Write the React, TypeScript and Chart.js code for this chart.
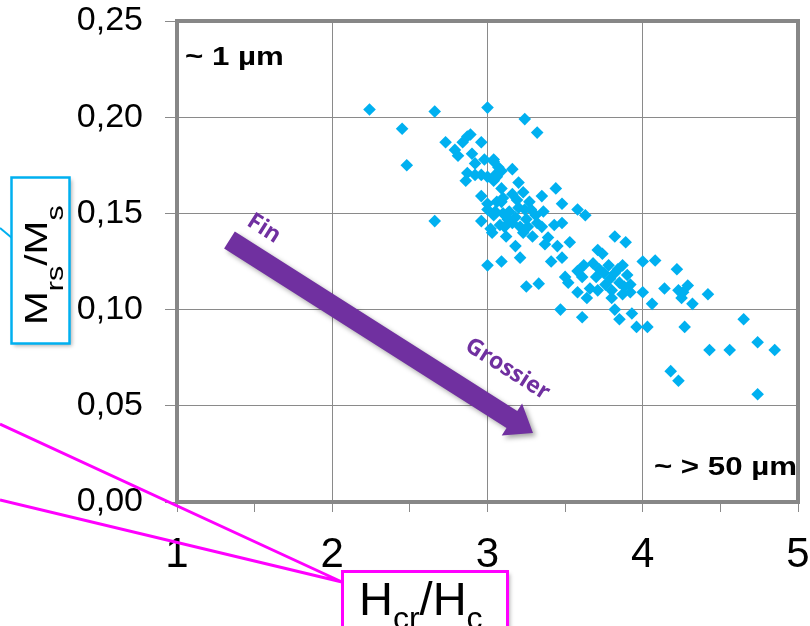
import { useEffect, useRef } from 'react';
import { Chart, registerables } from 'chart.js';

Chart.register(...registerables);

// Hcr/Hc values (x) and Mrs/Ms values (y)
const hcrHc = [
  2.24, 2.66, 3.0, 3.24, 3.32, 2.45, 2.48, 2.66, 2.73, 2.84,
  2.89, 2.87, 2.96, 2.81, 2.9, 3.04, 3.07, 2.87, 2.86, 2.92,
  2.96, 3.0, 3.05, 3.09, 2.96, 3.0, 3.05, 3.09, 3.04, 3.16,
  3.06, 3.2, 3.04, 3.1, 3.16, 3.06, 3.44, 3.35, 3.48, 3.27,
  3.2, 3.0, 3.04, 3.58, 3.63, 3.36, 3.13, 2.96, 3.03, 3.11,
  3.16, 3.25, 3.32, 3.23, 3.29, 3.35, 3.43, 3.48, 3.39, 3.45,
  3.53, 3.18, 3.21, 3.09, 3.0, 3.41, 3.48, 3.62, 3.71, 3.68,
  3.82, 3.89, 3.74, 3.78, 3.87, 4.0, 4.08, 4.22, 3.58, 3.61,
  3.5, 3.52, 3.82, 3.9, 3.85, 3.92, 3.66, 3.58, 3.64, 3.8,
  3.87, 3.92, 4.0, 4.14, 4.06, 3.47, 3.61, 3.82, 3.85, 3.93,
  3.96, 4.03, 4.27, 4.23, 4.29, 4.26, 4.25, 4.32, 4.42, 4.65,
  4.43, 4.56, 4.74, 4.85, 4.18, 4.23, 4.74, 3.02, 3.25, 3.33,
  3.14, 3.24, 3.31, 3.08, 3.21, 3.37, 3.72, 3.76, 3.71, 3.79,
  2.92, 2.98, 2.79, 3.1, 3.18, 3.28, 3.12, 3.26, 3.19, 3.09,
  3.23, 3.75, 3.84, 3.7, 3.8, 3.88,
];
const mrsMs = [
  0.204, 0.203, 0.205, 0.199, 0.192, 0.194, 0.175, 0.146, 0.187, 0.187,
  0.191, 0.19, 0.187, 0.18, 0.181, 0.178, 0.174, 0.171, 0.167, 0.17,
  0.17, 0.169, 0.17, 0.172, 0.159, 0.155, 0.151, 0.156, 0.177, 0.173,
  0.169, 0.166, 0.167, 0.158, 0.16, 0.156, 0.163, 0.159, 0.155, 0.156,
  0.153, 0.152, 0.149, 0.152, 0.149, 0.151, 0.147, 0.146, 0.14, 0.143,
  0.145, 0.147, 0.145, 0.14, 0.138, 0.143, 0.144, 0.145, 0.1375, 0.133,
  0.135, 0.133, 0.127, 0.125, 0.123, 0.125, 0.127, 0.123, 0.131, 0.124,
  0.138, 0.135, 0.129, 0.123, 0.123, 0.125, 0.1255, 0.121, 0.12, 0.117,
  0.117, 0.114, 0.119, 0.118, 0.114, 0.113, 0.111, 0.109, 0.106, 0.106,
  0.108, 0.109, 0.109, 0.111, 0.103, 0.1, 0.096, 0.1, 0.095, 0.098,
  0.091, 0.091, 0.091, 0.11, 0.1125, 0.109, 0.106, 0.103, 0.108, 0.095,
  0.079, 0.079, 0.083, 0.079, 0.068, 0.063, 0.056, 0.142, 0.112, 0.1135,
  0.151, 0.152, 0.149, 0.144, 0.143, 0.134, 0.121, 0.113, 0.11, 0.116,
  0.176, 0.178, 0.183, 0.15, 0.148, 0.152, 0.138, 0.143, 0.157, 0.163,
  0.161, 0.119, 0.121, 0.117, 0.11, 0.112,
];

const xMin = 1;
const xMax = 5;
const yMin = 0;
const yMax = 0.25;
const yStep = 0.05;

// arrow annotation in data coordinates: from "Fin" to "Grossier"
const arrowFrom = [1.338, 0.1362];
const arrowTo = [3.293, 0.0359];

const FONT = '"Liberation Sans", Arial, Helvetica, sans-serif';
const PURPLE = '#7030A0';
const CYAN = '#00B0F0';
const MAGENTA = '#FF00FF';

type Part = { t: string; size: number; dy: number };

function drawParts(ctx: CanvasRenderingContext2D, parts: Part[], x: number, y: number) {
  let cx = x;
  for (const p of parts) {
    ctx.font = `${p.size}px ${FONT}`;
    ctx.fillText(p.t, cx, y + p.dy);
    cx += ctx.measureText(p.t).width;
  }
}

const overlay = {
  id: 'overlay',
  afterDraw(chart: any) {
    const { ctx, chartArea: a, scales } = chart;
    const xs = scales.x;
    const ys = scales.y;
    ctx.save();

    // plot frame
    ctx.strokeStyle = '#878787';
    ctx.lineWidth = 4;
    ctx.strokeRect(a.left, a.top, a.right - a.left, a.bottom - a.top);

    // corner labels
    ctx.fillStyle = '#000';
    ctx.textBaseline = 'alphabetic';
    ctx.font = `bold 25px ${FONT}`;
    ctx.save();
    ctx.translate(a.left + 8, a.top + 44);
    ctx.scale(1.25, 1);
    ctx.textAlign = 'left';
    ctx.fillText('~ 1 µm', 0, 0);
    ctx.restore();
    ctx.save();
    ctx.translate(a.right - 1, a.bottom - 27);
    ctx.scale(1.25, 1);
    ctx.textAlign = 'right';
    ctx.fillText('~ > 50 µm', 0, 0);
    ctx.restore();

    // arrow
    const sx = xs.getPixelForValue(arrowFrom[0]);
    const sy = ys.getPixelForValue(arrowFrom[1]);
    const tx = xs.getPixelForValue(arrowTo[0]);
    const ty = ys.getPixelForValue(arrowTo[1]);
    const ang = Math.atan2(ty - sy, tx - sx);
    const len = Math.hypot(tx - sx, ty - sy);
    ctx.save();
    ctx.translate(sx, sy);
    ctx.rotate(ang);
    ctx.save();
    ctx.shadowColor = 'rgba(0,0,0,0.35)';
    ctx.shadowBlur = 5;
    ctx.shadowOffsetX = 3;
    ctx.shadowOffsetY = 3;
    ctx.fillStyle = PURPLE;
    const hl = 25;
    ctx.beginPath();
    ctx.moveTo(0, -10);
    ctx.lineTo(len - hl, -10);
    ctx.lineTo(len - hl, -19);
    ctx.lineTo(len, 0);
    ctx.lineTo(len - hl, 19);
    ctx.lineTo(len - hl, 10);
    ctx.lineTo(0, 10);
    ctx.closePath();
    ctx.fill();
    ctx.restore();
    ctx.fillStyle = PURPLE;
    ctx.font = 'bold 23px "Open Sans", "DejaVu Sans", sans-serif';
    ctx.textAlign = 'center';
    ctx.textBaseline = 'middle';
    ctx.fillText('Fin', 23, -28);
    ctx.fillText('Grossier', 304, -40);
    ctx.restore();

    // y-axis title box (Mrs/Ms)
    ctx.strokeStyle = CYAN;
    ctx.lineWidth = 2;
    ctx.beginPath();
    ctx.moveTo(0, 228);
    ctx.lineTo(12, 238);
    ctx.stroke();
    ctx.save();
    ctx.shadowColor = 'rgba(0,0,0,0.3)';
    ctx.shadowBlur = 4;
    ctx.shadowOffsetX = 2;
    ctx.shadowOffsetY = 2;
    ctx.fillStyle = '#fff';
    ctx.fillRect(11.5, 177.5, 58, 166);
    ctx.restore();
    ctx.lineWidth = 2.5;
    ctx.strokeRect(11.5, 177.5, 58, 166);
    ctx.save();
    ctx.fillStyle = '#000';
    ctx.textAlign = 'left';
    ctx.textBaseline = 'alphabetic';
    ctx.translate(47, 325);
    ctx.rotate(-Math.PI / 2);
    ctx.scale(1.27, 1);
    drawParts(ctx, [
      { t: 'M', size: 32, dy: 0 },
      { t: 'rs', size: 24, dy: 16 },
      { t: '/', size: 32, dy: 0 },
      { t: 'M', size: 32, dy: 0 },
      { t: 's', size: 24, dy: 16 },
    ], 0, 0);
    ctx.restore();

    // x-axis title box (Hcr/Hc)
    ctx.strokeStyle = MAGENTA;
    ctx.lineWidth = 3;
    ctx.beginPath();
    ctx.moveTo(0, 424);
    ctx.lineTo(342, 582);
    ctx.moveTo(0, 500);
    ctx.lineTo(342, 582);
    ctx.stroke();
    ctx.save();
    ctx.shadowColor = 'rgba(0,0,0,0.3)';
    ctx.shadowBlur = 4;
    ctx.shadowOffsetX = 2;
    ctx.shadowOffsetY = 2;
    ctx.fillStyle = '#fff';
    ctx.fillRect(342.5, 571.5, 165, 80);
    ctx.restore();
    ctx.strokeRect(342.5, 571.5, 165, 80);
    ctx.fillStyle = '#000';
    ctx.textAlign = 'left';
    ctx.textBaseline = 'alphabetic';
    drawParts(ctx, [
      { t: 'H', size: 47, dy: 0 },
      { t: 'cr', size: 32, dy: 14 },
      { t: '/', size: 47, dy: 0 },
      { t: 'H', size: 47, dy: 0 },
      { t: 'c', size: 32, dy: 14 },
    ], 359, 615);

    ctx.restore();
  },
};

export default function App() {
  const ref = useRef<HTMLCanvasElement | null>(null);

  useEffect(() => {
    document.body.style.margin = '0';
    const canvas = ref.current;
    if (!canvas) return;
    const points = hcrHc.map((x, i) => ({ x, y: mrsMs[i] }));
    const chart = new Chart(canvas, {
      type: 'scatter',
      data: {
        datasets: [
          {
            data: points,
            pointStyle: 'rectRot',
            pointRadius: 6.3,
            backgroundColor: CYAN,
            borderColor: CYAN,
            borderWidth: 0,
          },
        ],
      },
      options: {
        responsive: false,
        animation: false,
        devicePixelRatio: 1,
        layout: { padding: { top: 21, right: 12, left: 0, bottom: 0 } },
        plugins: { legend: { display: false }, tooltip: { enabled: false } },
        scales: {
          x: {
            type: 'linear',
            min: xMin,
            max: xMax,
            afterFit: (s: any) => {
              s.height = 124;
              s.paddingLeft = 0;
              s.paddingRight = 0;
              s.paddingTop = 0;
              s.paddingBottom = 0;
            },
            ticks: {
              stepSize: 0.5,
              autoSkip: false,
              maxRotation: 0,
              padding: 18,
              color: '#000',
              font: { family: FONT, size: 42 },
              callback: (v: any) => (Number.isInteger(v) ? String(v) : ''),
            },
            grid: {
              color: (c: any) =>
                c.tick && Number.isInteger(c.tick.value) ? '#8a8a8a' : 'rgba(0,0,0,0)',
              tickColor: '#8a8a8a',
              tickLength: 10,
              lineWidth: 1,
            },
            border: { display: false },
          },
          y: {
            type: 'linear',
            min: yMin,
            max: yMax,
            afterFit: (s: any) => {
              s.width = 177;
              s.paddingLeft = 0;
              s.paddingRight = 0;
              s.paddingTop = 0;
              s.paddingBottom = 0;
            },
            ticks: {
              stepSize: yStep,
              padding: 22,
              color: '#000',
              font: { family: FONT, size: 34 },
              callback: (v: any) => Number(v).toFixed(2).replace('.', ','),
            },
            grid: { color: '#8a8a8a', tickLength: 12, lineWidth: 1 },
            border: { display: false },
          },
        },
      },
      plugins: [overlay],
    });
    return () => chart.destroy();
  }, []);

  return (
    <div style={{ width: 810, height: 626 }}>
      <canvas ref={ref} width={810} height={626} style={{ display: 'block' }} />
    </div>
  );
}
